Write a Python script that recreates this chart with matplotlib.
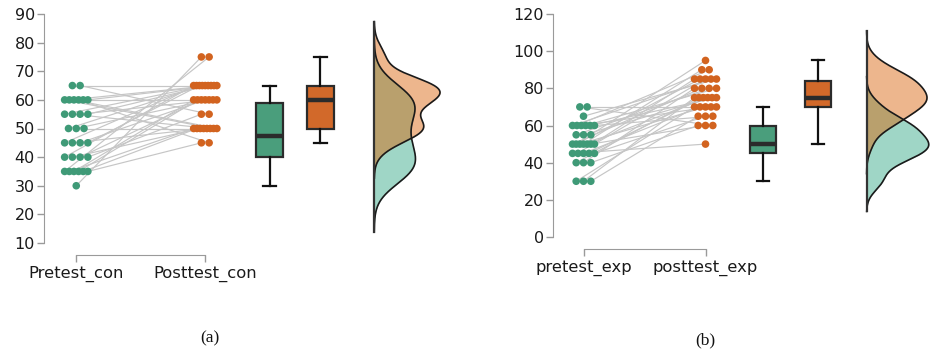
import numpy as np
import matplotlib
matplotlib.use("Agg")
import matplotlib.pyplot as plt

# ---------------- data ----------------
con_labels = ["Pretest_con", "Posttest_con"]
pre_con = [30, 35, 35, 35, 35, 35, 35, 40, 40, 40, 40, 45, 45, 45, 45,
           50, 50, 50, 55, 55, 55, 55, 60, 60, 60, 60, 60, 60, 65, 65]
post_con = [75, 75, 50, 60, 60, 50, 45, 65, 50, 60, 55, 65, 50, 60, 65,
            65, 60, 50, 65, 50, 60, 65, 50, 65, 50, 45, 60, 65, 65, 55]

exp_labels = ["pretest_exp", "posttest_exp"]
pre_exp = [30, 30, 30, 40, 40, 40, 45, 45, 45, 45, 45, 50, 50, 50, 50, 50, 50, 50,
           55, 55, 55, 60, 60, 60, 60, 60, 60, 65, 70, 70]
post_exp = [70, 75, 65, 75, 80, 60, 50, 85, 70, 75, 65, 80, 85, 70, 90, 75, 60, 85,
            80, 75, 95, 85, 90, 70, 80, 75, 65, 85, 60, 70]

con_yticks = [10, 20, 30, 40, 50, 60, 70, 80, 90]
exp_yticks = [0, 20, 40, 60, 80, 100, 120]

# ---------------- style ----------------
GREEN_DOT = "#3f9a77"
ORANGE_DOT = "#d2631f"
GREEN_BOX = "#4a9e7c"
ORANGE_BOX = "#d2692a"
GREEN_DEN = "#1b9e77"
ORANGE_DEN = "#d95f02"
SPINE = "#9a9a9a"
DARK = "#2b2b2b"

W, H = 935, 355
fig = plt.figure(figsize=(W / 100, H / 100), dpi=100)


def slot_offsets(values):
    vals = np.asarray(values)
    offs = np.zeros(len(vals))
    for v in np.unique(vals):
        idx = np.where(vals == v)[0]
        k = len(idx)
        if k == 1:
            continue
        half = min(0.03 * (k - 1), 0.09)
        offs[idx] = np.linspace(-half, half, k)
    return offs


def kde(values, grid):
    v = np.asarray(values, float)
    n = len(v)
    bw = v.std(ddof=1) * n ** (-1 / 5)
    z = (grid[:, None] - v[None, :]) / bw
    return np.exp(-0.5 * z ** 2).sum(axis=1) / (n * bw * np.sqrt(2 * np.pi)), bw


def panel(rect, xlim, ylim, yticks, labels, pre, post, box_pos, den_base, den_w):
    ax = fig.add_axes(rect)
    ax.set_xlim(*xlim)
    ax.set_ylim(*ylim)

    xo_pre = 0 + slot_offsets(pre)
    xo_post = 1 + slot_offsets(post)
    for a, b, ya, yb in zip(xo_pre, xo_post, pre, post):
        ax.plot([a, b], [ya, yb], color="#c6c6c6", lw=0.85, zorder=1)
    ax.scatter(xo_pre, pre, s=30, color=GREEN_DOT, edgecolors="none", zorder=3)
    ax.scatter(xo_post, post, s=30, color=ORANGE_DOT, edgecolors="none", zorder=3)

    bp = ax.boxplot([pre, post], positions=box_pos, widths=0.21, patch_artist=True,
                    showfliers=False, whis=1.5, manage_ticks=False,
                    boxprops=dict(edgecolor=DARK, linewidth=1.6),
                    medianprops=dict(color=DARK, linewidth=3.2),
                    whiskerprops=dict(color="#111111", linewidth=1.6),
                    capprops=dict(color="#111111", linewidth=1.6),
                    capwidths=0.1)
    for patch, c in zip(bp["boxes"], [GREEN_BOX, ORANGE_BOX]):
        patch.set_facecolor(c)

    # half densities
    d_pre_bw = kde(pre, np.array([0.0]))[1]
    d_post_bw = kde(post, np.array([0.0]))[1]
    g_pre = np.linspace(min(pre) - 3 * d_pre_bw, max(pre) + 3 * d_pre_bw, 400)
    g_post = np.linspace(min(post) - 3 * d_post_bw, max(post) + 3 * d_post_bw, 400)
    d_pre = kde(pre, g_pre)[0]
    d_post = kde(post, g_post)[0]
    m = max(d_pre.max(), d_post.max())
    for g, d, c, a in [(g_pre, d_pre, GREEN_DEN, 0.42), (g_post, d_post, ORANGE_DEN, 0.45)]:
        x = den_base + d / m * den_w
        ax.fill_betweenx(g, den_base, x, color=c, alpha=a, lw=0, zorder=2)
        ax.plot(x, g, color="#1a1a1a", lw=1.2, zorder=2.5)
    lo = min(g_pre.min(), g_post.min())
    hi = max(g_pre.max(), g_post.max())
    ax.plot([den_base, den_base], [lo, hi], color="#333333", lw=1.6, zorder=2.6)

    # axes styling
    for s in ["top", "right"]:
        ax.spines[s].set_visible(False)
    ax.spines["left"].set_bounds(yticks[0], yticks[-1])
    ax.spines["left"].set_color(SPINE)
    ax.spines["bottom"].set_bounds(0, 1)
    ax.spines["bottom"].set_color(SPINE)
    ax.spines["bottom"].set_position(("outward", 8.6))
    ax.set_yticks(yticks)
    ax.set_yticklabels([str(t) for t in yticks])
    ax.set_xticks([0, 1])
    ax.set_xticklabels(labels)
    ax.tick_params(axis="y", length=5, width=1, color=SPINE, pad=1.5,
                   labelsize=11.5, labelcolor="#1a1a1a")
    ax.tick_params(axis="x", length=5, width=1, color=SPINE, pad=3,
                   labelsize=11.8, labelcolor="#1a1a1a")
    return ax


# left panel: y 10..90 maps to pixel 243..14 ; spine at x=44 ; 129 px per x unit
panel([44 / W, (H - 243) / H, (445 - 44) / W, (243 - 14) / H],
      (-0.25, -0.25 + (445 - 44) / 129), (10, 90), con_yticks, con_labels,
      pre_con, post_con, [1.50, 1.89], 2.31, 0.51)

# right panel: y 0..120 maps to pixel 237..14 ; spine at x=553 ; 122 px per x unit
panel([553 / W, (H - 237) / H, (935 - 553) / W, (237 - 14) / H],
      (-0.25, -0.25 + (935 - 553) / 122), (0, 120), exp_yticks, exp_labels,
      pre_exp, post_exp, [1.47, 1.92], 2.32, 0.51)

fig.text(210 / W, 1 - 338 / H, "(a)", ha="center", va="center",
         family="Liberation Serif", fontsize=12.5, color="#111111")
fig.text(705 / W, 1 - 340 / H, "(b)", ha="center", va="center",
         family="Liberation Serif", fontsize=12.5, color="#111111")

fig.savefig("out.png", dpi=100)
